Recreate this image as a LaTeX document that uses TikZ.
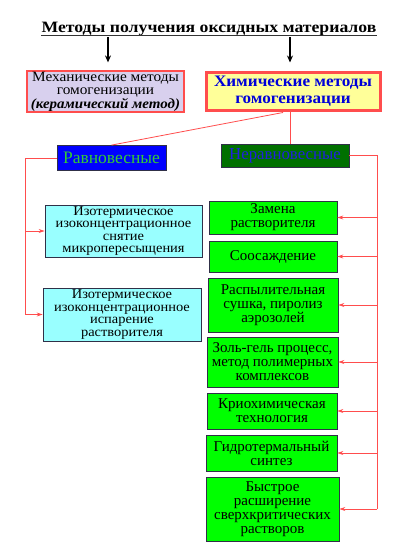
\documentclass[tikz,border=0pt]{standalone}
\usepackage{fontspec}
\setmainfont{Liberation Serif}
\newfontfamily\widefont[FakeStretch=1.12]{Liberation Serif}
\newfontfamily\midfont[FakeStretch=1.07]{Liberation Serif}
\usetikzlibrary{arrows.meta,positioning,calc}
\definecolor{redl}{HTML}{FF4D4D}
\definecolor{lav}{HTML}{D8D0EE}
\definecolor{yel}{HTML}{FFFF99}
\definecolor{cyanb}{HTML}{99FFFF}
\definecolor{greenb}{HTML}{00FF00}
\definecolor{darkg}{HTML}{007000}
\definecolor{txtg}{HTML}{33CC33}
\definecolor{txtb}{HTML}{2020E0}
\definecolor{bord}{HTML}{303048}
\tikzset{
  cbox/.style={draw=bord, line width=0.8pt, fill=cyanb, align=center, inner sep=0pt,
    font=\midfont\fontsize{13.5}{12.6}\selectfont},
  gbox/.style={draw=bord, line width=0.8pt, fill=greenb, align=center, inner sep=0pt,
    font=\fontsize{15}{14}\selectfont},
  conn/.style={draw=redl, line width=0.8pt},
  arr/.style={draw=redl, line width=0.8pt, -{Stealth[length=6pt,width=4pt]}},
  barr/.style={draw=black, line width=1.6pt, -{Stealth[length=7pt,width=6pt]}},
}
\begin{document}
\begin{tikzpicture}[x=1pt,y=-1pt]
\useasboundingbox (0,0) rectangle (400,560);
% title
\node[anchor=base, inner sep=0pt, font=\widefont\fontsize{15.8}{16}\selectfont\bfseries] (title) at (209,32) {Методы получения оксидных материалов};
\draw[line width=1.2pt, black!80] ($(title.base west)+(0,3.5)$) -- ($(title.base east)+(0,3.5)$);
% top boxes
\node[draw=redl, line width=1.2pt, fill=lav, minimum width=157, minimum height=41, align=center, inner sep=0pt,
  font=\midfont\fontsize{14.3}{13.4}\selectfont] (mech) at (105.5,91.5)
  {Механические методы\\гомогенизации\\{\fontsize{14}{13.4}\selectfont\bfseries\itshape (керамический метод)}};
\node[draw=redl, line width=3pt, fill=yel, minimum width=174, minimum height=38, align=center, inner sep=0pt,
  text=blue!85!black, font=\midfont\fontsize{16}{16.5}\selectfont\bfseries] (chem) at (293,91)
  {Химические методы\\гомогенизации};
\coordinate (a1) at (108,37);
\coordinate (a2) at (290,37);
\draw[barr, shorten >=8pt] (a1) -- (a1 |- mech.north);
\draw[barr, shorten >=8pt] (a2) -- (a2 |- chem.north);
% second level
\node[draw=bord, line width=0.8pt, fill=blue, text=txtg, minimum width=109, minimum height=25, inner sep=0pt,
  font=\fontsize{17.5}{18}\selectfont] (rav) at (111.5,158) {Равновесные};
\node[draw=bord, line width=0.8pt, fill=darkg, text=txtb, minimum width=128, minimum height=23, inner sep=0pt,
  font=\fontsize{16.8}{18}\selectfont] (nerav) at (285,155.5) {Неравновесные};
\coordinate (c1) at (283,112.5);
\draw[conn] (c1) -- (rav.north);
\draw[conn] (chem.south -| 290,0) -- (nerav.north -| 290,0);
% left branch
\node[cbox, minimum width=157, minimum height=52] (iso1) at (123.5,231)
  {Изотермическое\\изоконцентрационное\\снятие\\микропересыщения};
\node[cbox, minimum width=158, minimum height=53] (iso2) at (122,314.5)
  {Изотермическое\\изоконцентрационное\\испарение\\растворителя};
\coordinate (lx) at (25,0);
\draw[conn] (rav.west) -- (rav.west -| lx) -- (iso2.west -| lx);
\draw[arr] (iso1.west -| lx) -- (iso1.west);
\draw[arr] (iso2.west -| lx) -- (iso2.west);
% right branch
\node[gbox, minimum width=128, minimum height=33] (g1) at (273,217.5) {Замена\\растворителя};
\node[gbox, minimum width=128, minimum height=31] (g2) at (273,256.5) {Соосаждение};
\node[gbox, minimum width=130, minimum height=54] (g3) at (273,305) {Распылительная\\сушка, пиролиз\\аэрозолей};
\node[gbox, minimum width=131, minimum height=50] (g4) at (272.5,362) {Золь-гель процесс,\\метод полимерных\\комплексов};
\node[gbox, minimum width=130, minimum height=36] (g5) at (272,411) {Криохимическая\\технология};
\node[gbox, minimum width=131, minimum height=36] (g6) at (271.5,453) {Гидротермальный\\синтез};
\node[gbox, minimum width=133, minimum height=64] (g7) at (272.5,509) {Быстрое\\расширение\\сверхкритических\\растворов};
\coordinate (rx) at (377,0);
\draw[conn] (nerav.east) -- (nerav.east -| rx) -- (g7.east -| rx);
\foreach \g in {g1,g2,g3,g4,g5,g6,g7}
  \draw[arr] (\g.east -| rx) -- (\g.east);
\end{tikzpicture}
\end{document}
